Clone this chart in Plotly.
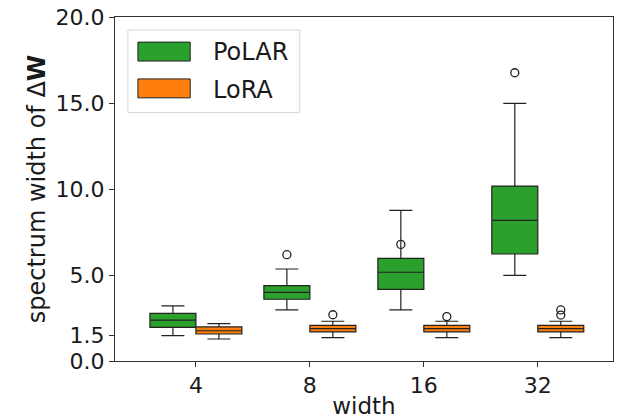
import plotly.graph_objects as go

widths = ["4", "8", "16", "32"]

polar_lower = [1.47, 2.97, 2.97, 4.98]
polar_q1 = [1.96, 3.59, 4.17, 6.22]
polar_med = [2.38, 3.99, 5.16, 8.18]
polar_q3 = [2.77, 4.38, 5.97, 10.17]
polar_upper = [3.20, 5.35, 8.76, 14.98]
polar_out_x = ["8", "16", "32"]
polar_out_y = [6.18, 6.78, 16.76]

lora_lower = [1.28, 1.36, 1.36, 1.36]
lora_q1 = [1.57, 1.69, 1.69, 1.69]
lora_med = [1.76, 1.88, 1.88, 1.88]
lora_q3 = [1.98, 2.07, 2.07, 2.07]
lora_upper = [2.17, 2.31, 2.31, 2.31]
lora_out_x = ["8", "16", "32", "32"]
lora_out_y = [2.69, 2.58, 2.97, 2.67]

y_ticks = [0.0, 1.5, 5.0, 10.0, 15.0, 20.0]

FONT = "DejaVu Sans"
GAP = 0.193
EDGE = "#222222"
COLORS = {"PoLAR": "#2ca02c", "LoRA": "#ff7f0e"}

fig = go.Figure()


def add_series(name, lower, q1, med, q3, upper, ox, oy):
    fig.add_trace(go.Box(
        name=name,
        x=widths,
        q1=q1, median=med, q3=q3,
        lowerfence=lower, upperfence=upper,
        fillcolor=COLORS[name],
        line=dict(color=EDGE, width=1.2),
        whiskerwidth=0.5,
        offsetgroup=name,
        showlegend=False,
        hoverinfo="skip",
    ))
    fig.add_trace(go.Scatter(
        name=name + " outliers",
        x=ox, y=oy,
        mode="markers",
        offsetgroup=name,
        marker=dict(symbol="circle-open", color=EDGE, size=8,
                    line=dict(width=1.3)),
        showlegend=False,
        hoverinfo="skip",
    ))


add_series("PoLAR", polar_lower, polar_q1, polar_med, polar_q3, polar_upper,
           polar_out_x, polar_out_y)
add_series("LoRA", lora_lower, lora_q1, lora_med, lora_q3, lora_upper,
           lora_out_x, lora_out_y)

# legend drawn in the matplotlib style (wide patches, light frame)
fig.add_shape(type="rect", xref="paper", yref="paper",
              x0=0.026, x1=0.371, y0=0.722, y1=0.962,
              line=dict(color="#d6d6d6", width=1), fillcolor="rgba(255,255,255,0.8)",
              layer="above")
legend_rows = [("PoLAR", 0.927, 0.872, 0.898), ("LoRA", 0.820, 0.765, 0.788)]
for name, ytop, ybot, ytext in legend_rows:
    fig.add_shape(type="rect", xref="paper", yref="paper",
                  x0=0.046, x1=0.151, y0=ybot, y1=ytop,
                  line=dict(color=EDGE, width=1), fillcolor=COLORS[name],
                  layer="above")
    fig.add_annotation(xref="paper", yref="paper", x=0.193, y=ytext,
                       xanchor="left", yanchor="middle", showarrow=False,
                       text=name, font=dict(family=FONT, size=24, color="#1a1a1a"))

axis_common = dict(
    showline=True, linecolor="#333333", linewidth=1, mirror=True,
    ticks="outside", ticklen=5, tickcolor="#333333", tickwidth=1,
    showgrid=False, zeroline=False,
    ticklabeloverflow="allow",
    tickfont=dict(family=FONT, size=22, color="#1a1a1a"),
)

fig.update_layout(
    width=626, height=418,
    margin=dict(l=107, r=21, t=9, b=65, autoexpand=False),
    paper_bgcolor="white", plot_bgcolor="white",
    boxmode="group", boxgap=GAP, boxgroupgap=0,
    scattermode="group", scattergap=GAP,
    font=dict(family=FONT, size=22, color="#1a1a1a"),
    showlegend=False,
    xaxis=dict(
        type="category", range=[-0.71, 3.66],
        categoryorder="array", categoryarray=widths,
        title=dict(text="width", font=dict(family=FONT, size=23), standoff=0),
        **axis_common,
    ),
    yaxis=dict(
        range=[0, 20], tickvals=y_ticks, tickformat=".1f",
        title=dict(text="spectrum width of Δ<b>W</b>", font=dict(family=FONT, size=24), standoff=3),
        **axis_common,
    ),
)

fig.write_html("out.html")
